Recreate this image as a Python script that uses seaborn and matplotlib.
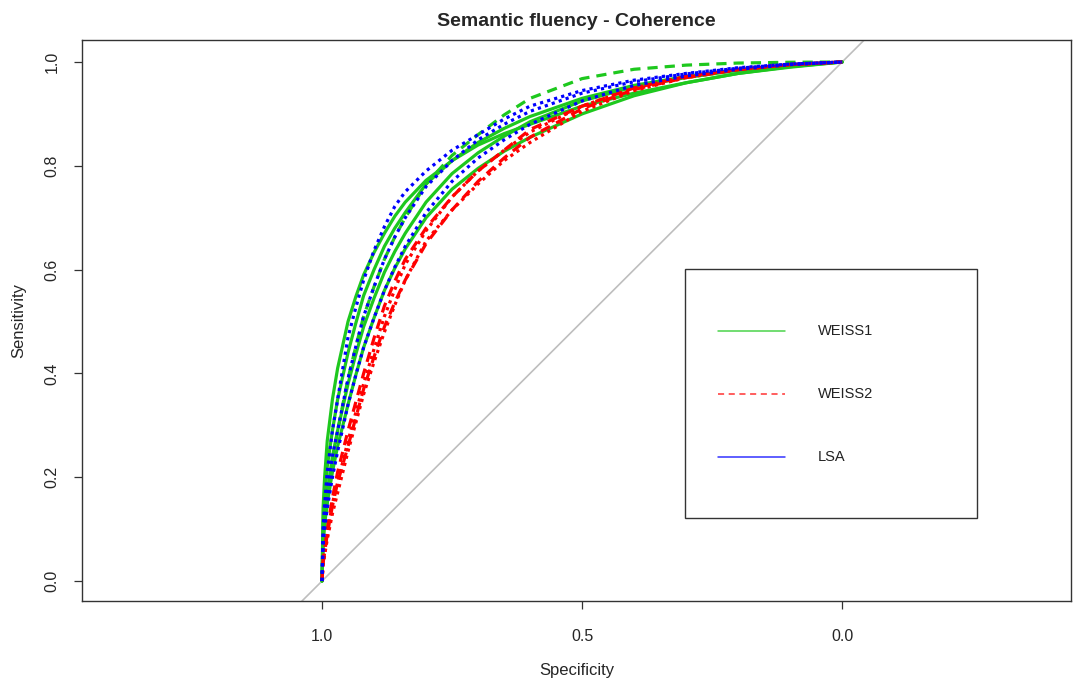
import numpy as np
import pandas as pd
import matplotlib
matplotlib.use("Agg")
import matplotlib.pyplot as plt
import seaborn as sns
from matplotlib.patches import Rectangle

sns.set_style("ticks")
plt.rcParams['font.family'] = ['Liberation Sans', 'DejaVu Sans']

# specificity grid shared by all smoothed ROC curves
spec = [1.0, 0.998, 0.995, 0.99, 0.98, 0.97, 0.95, 0.935, 0.92, 0.90, 0.88,
        0.86, 0.84, 0.80, 0.75, 0.70, 0.65, 0.60, 0.50, 0.40, 0.30, 0.20,
        0.10, 0.0]

# WEISS1 (green)
weiss1_a = [0, 0.14, 0.20, 0.27, 0.35, 0.41, 0.50, 0.548, 0.59, 0.633, 0.67,
            0.703, 0.73, 0.772, 0.81, 0.84, 0.862, 0.88, 0.915, 0.94, 0.96,
            0.978, 0.99, 1.0]
weiss1_b = [0, 0.11, 0.16, 0.22, 0.29, 0.35, 0.44, 0.497, 0.55, 0.60, 0.645,
            0.68, 0.71, 0.765, 0.81, 0.845, 0.872, 0.895, 0.93, 0.955, 0.972,
            0.985, 0.994, 1.0]
weiss1_c = [0, 0.08, 0.12, 0.17, 0.24, 0.29, 0.38, 0.437, 0.49, 0.545, 0.595,
            0.635, 0.67, 0.73, 0.785, 0.825, 0.857, 0.885, 0.925, 0.952, 0.97,
            0.984, 0.994, 1.0]
weiss1_d = [0, 0.07, 0.11, 0.15, 0.21, 0.26, 0.34, 0.397, 0.45, 0.507, 0.56,
            0.603, 0.64, 0.70, 0.755, 0.795, 0.828, 0.855, 0.90, 0.935, 0.96,
            0.978, 0.991, 1.0]
weiss1_e = [0, 0.06, 0.10, 0.15, 0.23, 0.29, 0.39, 0.452, 0.51, 0.567, 0.62,
            0.663, 0.70, 0.765, 0.82, 0.86, 0.898, 0.93, 0.968, 0.986, 0.994,
            0.998, 0.9995, 1.0]

# WEISS2 (red)
weiss2_a = [0, 0.04, 0.06, 0.10, 0.16, 0.21, 0.29, 0.345, 0.40, 0.468, 0.53,
            0.578, 0.62, 0.68, 0.74, 0.79, 0.83, 0.87, 0.915, 0.95, 0.972,
            0.986, 0.995, 1.0]
weiss2_b = [0, 0.035, 0.055, 0.09, 0.145, 0.19, 0.26, 0.315, 0.37, 0.432, 0.49,
            0.537, 0.58, 0.65, 0.715, 0.77, 0.815, 0.855, 0.91, 0.947, 0.97,
            0.985, 0.995, 1.0]
weiss2_c = [0, 0.03, 0.05, 0.08, 0.13, 0.17, 0.25, 0.305, 0.36, 0.422, 0.48,
            0.532, 0.58, 0.655, 0.715, 0.765, 0.81, 0.845, 0.905, 0.945, 0.97,
            0.985, 0.995, 1.0]
weiss2_d = [0, 0.035, 0.055, 0.09, 0.15, 0.19, 0.27, 0.325, 0.38, 0.447, 0.51,
            0.562, 0.61, 0.675, 0.74, 0.79, 0.83, 0.865, 0.915, 0.95, 0.972,
            0.987, 0.995, 1.0]

# LSA (blue)
lsa_a = [0, 0.10, 0.15, 0.21, 0.29, 0.35, 0.47, 0.527, 0.58, 0.637, 0.683,
         0.722, 0.75, 0.79, 0.83, 0.86, 0.89, 0.915, 0.945, 0.965, 0.978,
         0.989, 0.996, 1.0]
lsa_b = [0, 0.08, 0.12, 0.17, 0.24, 0.29, 0.39, 0.452, 0.51, 0.567, 0.62,
         0.663, 0.70, 0.76, 0.81, 0.85, 0.88, 0.905, 0.94, 0.962, 0.977,
         0.988, 0.996, 1.0]
lsa_c = [0, 0.07, 0.10, 0.14, 0.20, 0.25, 0.34, 0.397, 0.45, 0.507, 0.56,
         0.605, 0.645, 0.71, 0.77, 0.815, 0.85, 0.88, 0.925, 0.955, 0.973,
         0.986, 0.995, 1.0]

legend_labels = ["WEISS1", "WEISS2", "LSA"]

green = "#1ec81e"
red = "#ff0000"
blue = "#0000ff"
dashed = (0, (3.2, 2.2))
dotted = (0, (1.0, 1.3))

curves = [
    (weiss1_a, green, "-"), (weiss1_b, green, "-"), (weiss1_c, green, "-"),
    (weiss1_d, green, "-"), (weiss1_e, green, dashed),
    (weiss2_a, red, dashed), (weiss2_b, red, dashed),
    (weiss2_c, red, dotted), (weiss2_d, red, dotted),
    (lsa_a, blue, dotted), (lsa_b, blue, dotted), (lsa_c, blue, dotted),
]

fig = plt.figure(figsize=(10.73, 6.84), dpi=100)
ax = fig.add_axes([82 / 1073, 1 - 601 / 684, 989 / 1073, 561 / 684])

# chance diagonal
ax.axline((1.0, 0.0), (0.0, 1.0), color="#bebebe", lw=1.2, zorder=1)

for sens, col, ls in curves:
    df = pd.DataFrame({"Specificity": spec, "Sensitivity": sens})
    sns.lineplot(data=df, x="Specificity", y="Sensitivity", sort=False,
                 estimator=None, color=col, linestyle=ls, lw=2.3, ax=ax,
                 zorder=2)

ax.set_xlim(1.4615, -0.440)
ax.set_ylim(-0.0385, 1.0424)
ax.set_xticks([1.0, 0.5, 0.0])
ax.set_xticklabels(["1.0", "0.5", "0.0"])
ax.set_yticks([0.0, 0.2, 0.4, 0.6, 0.8, 1.0])
ax.set_yticklabels(["0.0", "0.2", "0.4", "0.6", "0.8", "1.0"],
                   rotation=90, va="center")
ax.tick_params(axis="both", labelsize=11.5, length=6, width=0.9,
               color="#333333")
ax.tick_params(axis="x", pad=14)
ax.tick_params(axis="y", pad=10)

for spine in ax.spines.values():
    spine.set_visible(True)
    spine.set_color("#333333")
    spine.set_linewidth(1.0)

ax.set_xlabel("Specificity", fontsize=12, labelpad=14)
ax.set_ylabel("Sensitivity", fontsize=12, labelpad=13)
ax.set_title("Semantic fluency - Coherence", fontsize=14, fontweight="bold",
             pad=10)

# legend box, drawn like R's legend()
ax.add_patch(Rectangle((0.6097, 0.148), 0.2953, 0.4438, transform=ax.transAxes,
                       fill=False, edgecolor="#333333", lw=1.0, zorder=3))
legend_styles = [(green, "-"), (red, (0, (4, 3))), (blue, "-")]
legend_rows = [0.4813, 0.369, 0.2567]
for lab, (col, ls), yy in zip(legend_labels, legend_styles, legend_rows):
    ax.plot([0.643, 0.711], [yy, yy], transform=ax.transAxes, color=col,
            linestyle=ls, lw=1.1, alpha=0.8)
    ax.text(0.744, yy, lab, transform=ax.transAxes, fontsize=10.5,
            va="center", ha="left", color="#222222")

fig.savefig("out.png", dpi=100)
